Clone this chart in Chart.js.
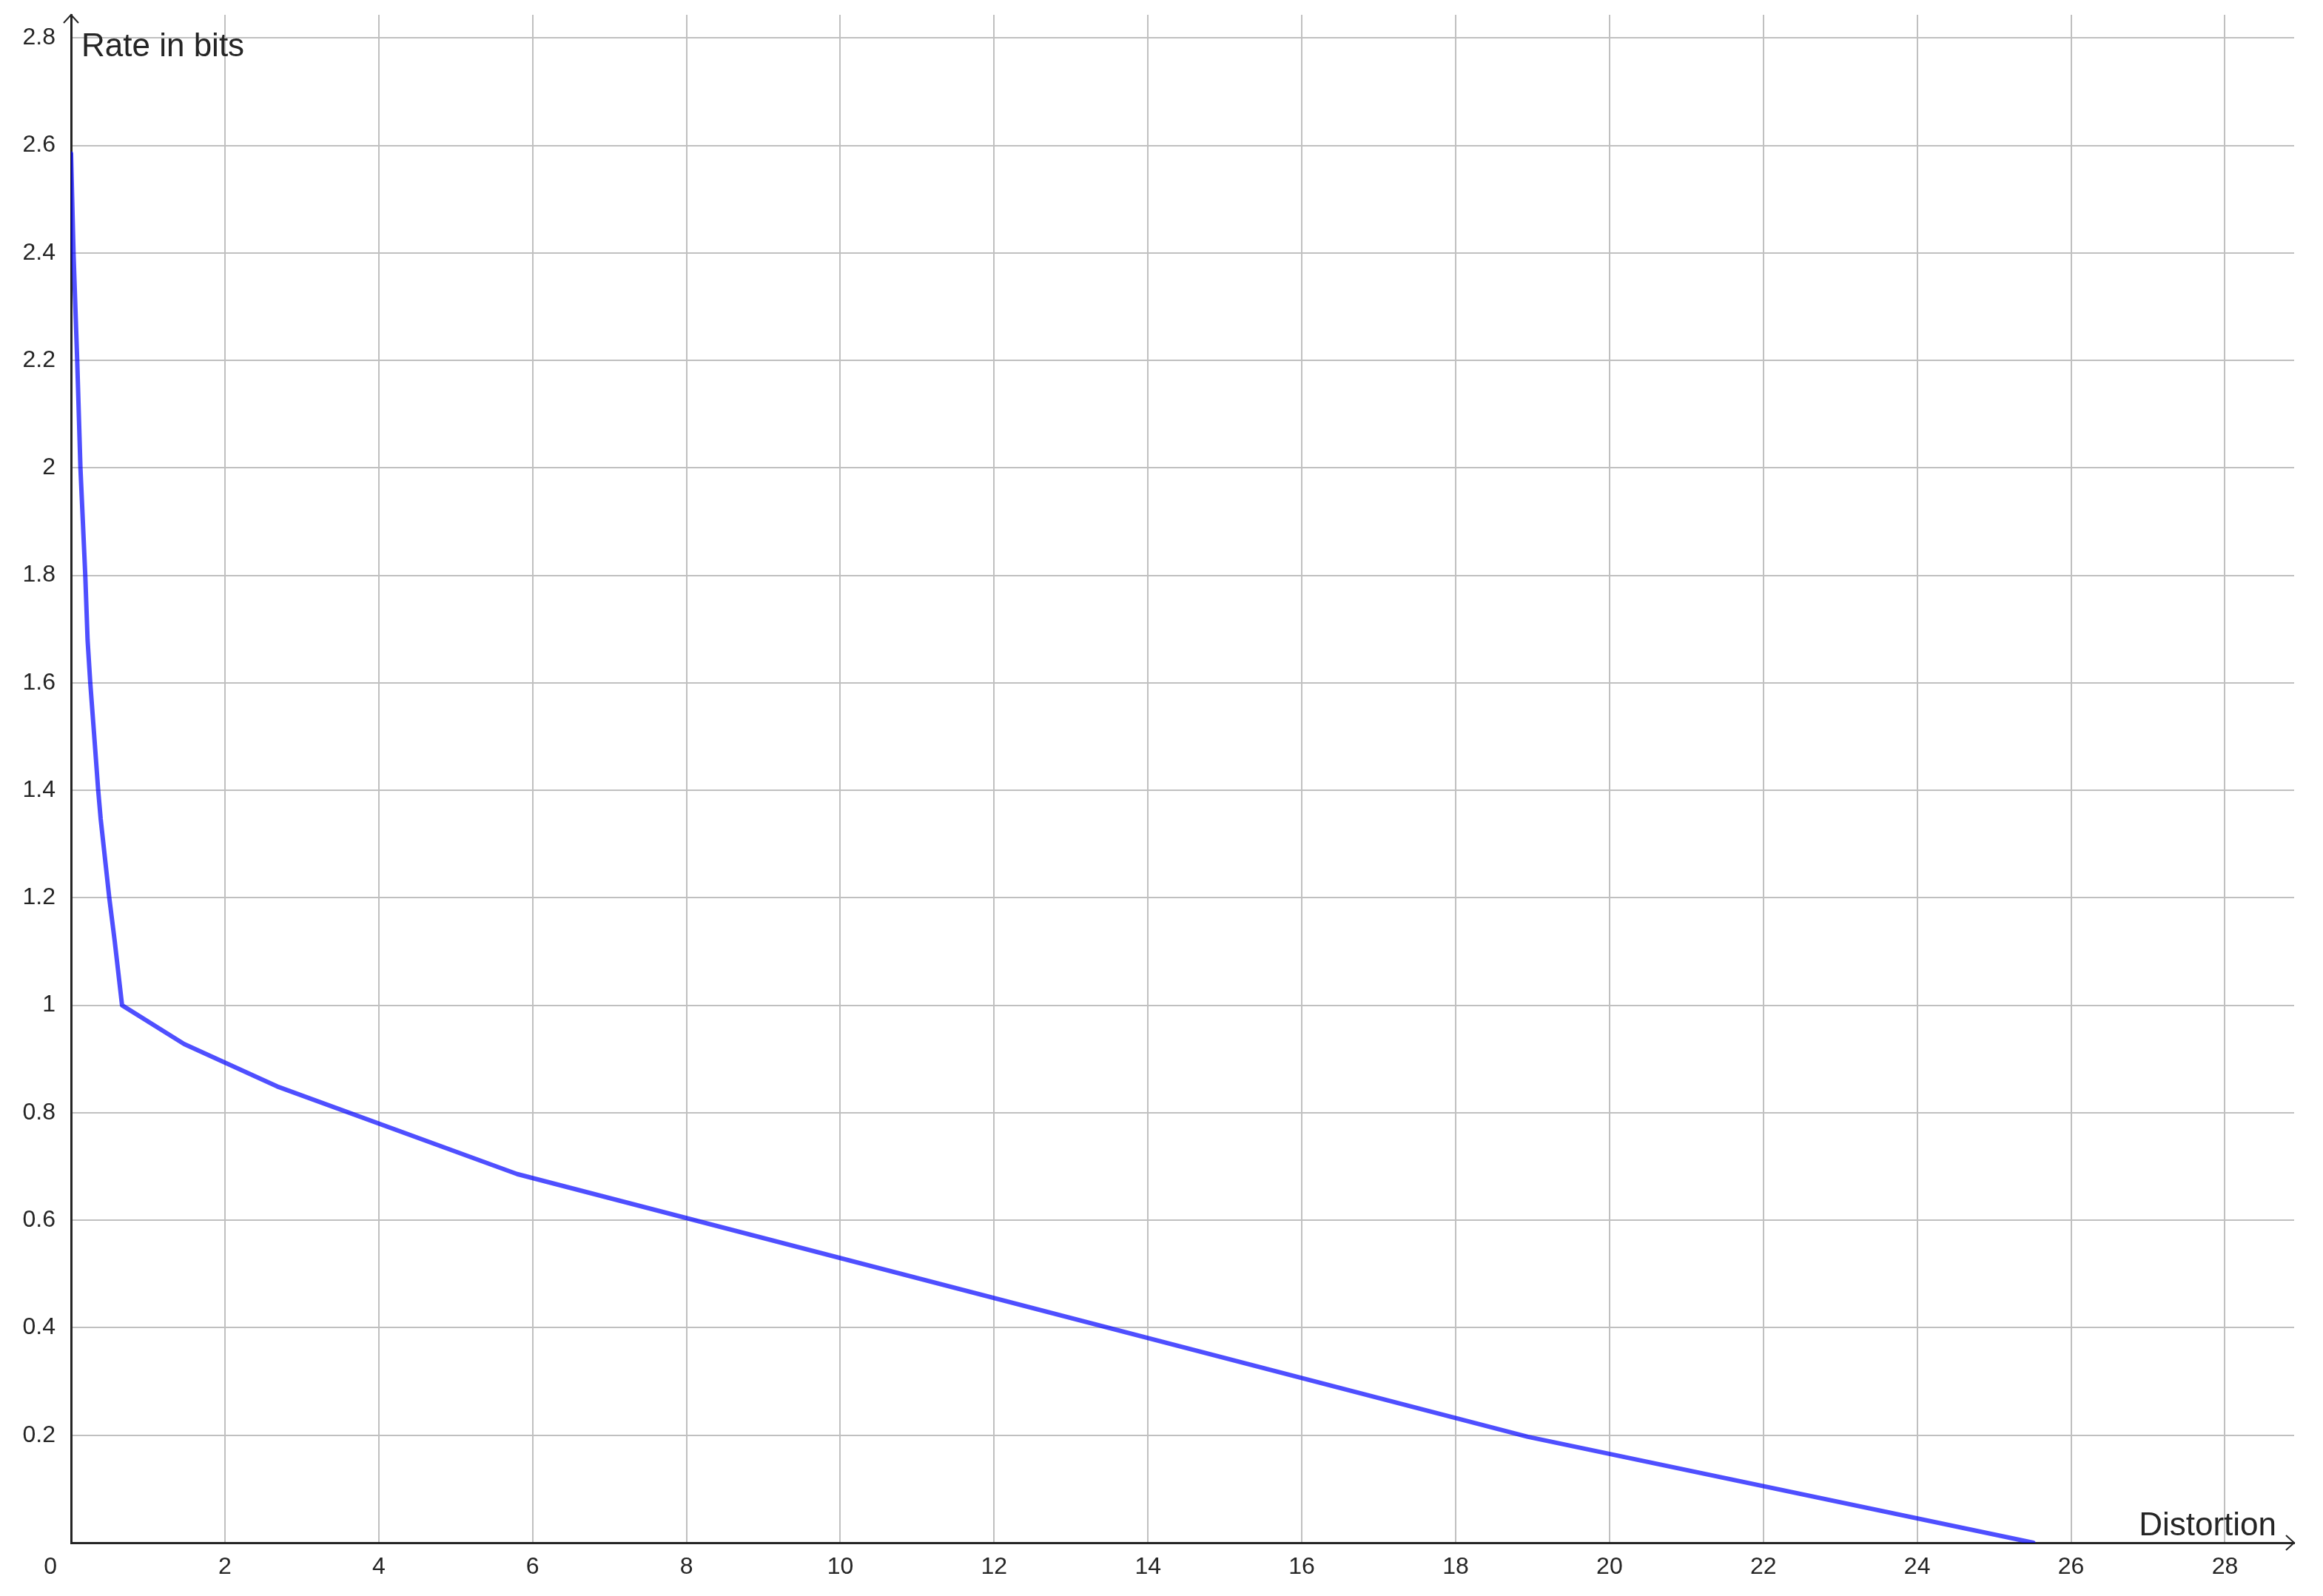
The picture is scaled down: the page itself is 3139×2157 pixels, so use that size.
<!DOCTYPE html>
<html>
<head>
    <title>Rate distortion curve</title>
    <script src="https://cdn.jsdelivr.net/npm/chart.js"></script>
    <style>
        body { margin: 0; background: #fff; }
    </style>
</head>
<body>
    <canvas id="rd" width="3139" height="2157"></canvas>

    <script>
        // Curve points
        const distortion = [0, 0.032, 0.08, 0.122, 0.185, 0.215, 0.25, 0.305, 0.353, 0.385, 0.497, 0.567, 0.663, 1.47, 2.68, 5.8, 18.94, 25.51];
        const rate = [2.585, 2.4, 2.2, 2.0, 1.8, 1.68, 1.6, 1.494, 1.4, 1.347, 1.2, 1.12, 1.0, 0.928, 0.849, 0.686, 0.197, 0];

        // Axis ticks and names
        const xTickValues = [2, 4, 6, 8, 10, 12, 14, 16, 18, 20, 22, 24, 26, 28];
        const yTickValues = [0.2, 0.4, 0.6, 0.8, 1, 1.2, 1.4, 1.6, 1.8, 2, 2.2, 2.4, 2.6, 2.8];
        const xTitle = 'Distortion';
        const yTitle = 'Rate in bits';
        const originLabel = '0';

        const FONT = "'Liberation Sans', Arial, sans-serif";
        const INK = '#252525';

        // arrows on the axes, axis names inside the plot, the shared origin label
        const axisDecor = {
            id: 'axisDecor',
            afterDraw(chart) {
                const { ctx, chartArea: a } = chart;
                const x0 = chart.scales.x.getPixelForValue(0);
                const y0 = chart.scales.y.getPixelForValue(0);
                ctx.save();
                ctx.strokeStyle = INK;
                ctx.lineWidth = 2;
                ctx.beginPath();
                ctx.moveTo(x0 - 10, a.top + 11);
                ctx.lineTo(x0, a.top);
                ctx.lineTo(x0 + 10, a.top + 11);
                ctx.moveTo(a.right - 11, y0 - 10);
                ctx.lineTo(a.right, y0);
                ctx.lineTo(a.right - 11, y0 + 10);
                ctx.stroke();

                ctx.fillStyle = INK;
                ctx.font = '44px ' + FONT;
                ctx.textBaseline = 'alphabetic';
                ctx.textAlign = 'left';
                ctx.fillText(yTitle, x0 + 14, a.top + 56);
                ctx.textAlign = 'right';
                ctx.fillText(xTitle, a.right - 24, y0 - 10);

                ctx.font = '32px ' + FONT;
                ctx.textAlign = 'right';
                ctx.textBaseline = 'middle';
                ctx.fillText(originLabel, x0 - 19, y0 + 33);
                ctx.restore();
            }
        };

        const fmt = v => String(+v.toFixed(2));

        // fixed axis boxes so the plot area lands where the picture has it
        const fitX = s => { s.height = 72; s.paddingLeft = 0; s.paddingRight = 0; };
        const fitY = s => { s.width = 96; s.paddingTop = 0; s.paddingBottom = 0; };

        const ctx = document.getElementById('rd').getContext('2d');
        new Chart(ctx, {
            type: 'scatter',
            data: {
                datasets: [{
                    label: yTitle,
                    data: distortion.map((d, i) => ({ x: d, y: rate[i] })),
                    showLine: true,
                    borderColor: 'rgba(0, 0, 255, 0.69)',
                    borderWidth: 6,
                    borderJoinStyle: 'round',
                    borderCapStyle: 'round',
                    pointRadius: 0,
                    tension: 0
                }]
            },
            options: {
                responsive: false,
                animation: false,
                devicePixelRatio: 1,
                layout: { padding: { top: 20, right: 39, left: 0, bottom: 0 } },
                plugins: {
                    legend: { display: false },
                    tooltip: { enabled: false }
                },
                scales: {
                    x: {
                        type: 'linear',
                        min: 0,
                        max: 28.9,
                        afterBuildTicks: s => { s.ticks = xTickValues.map(v => ({ value: v })); },
                        afterFit: fitX,
                        grid: { color: '#c0c0c0', lineWidth: 2, drawTicks: false },
                        border: { color: INK, width: 3 },
                        ticks: {
                            padding: 14,
                            color: INK,
                            font: { family: FONT, size: 32 },
                            maxRotation: 0,
                            autoSkip: false,
                            callback: fmt
                        }
                    },
                    y: {
                        type: 'linear',
                        min: 0,
                        max: 2.843,
                        afterBuildTicks: s => { s.ticks = yTickValues.map(v => ({ value: v })); },
                        afterFit: fitY,
                        grid: { color: '#c0c0c0', lineWidth: 2, drawTicks: false },
                        border: { color: INK, width: 3 },
                        ticks: {
                            padding: 21,
                            color: INK,
                            font: { family: FONT, size: 32 },
                            autoSkip: false,
                            callback: fmt
                        }
                    }
                }
            },
            plugins: [axisDecor]
        });
    </script>
</body>
</html>
